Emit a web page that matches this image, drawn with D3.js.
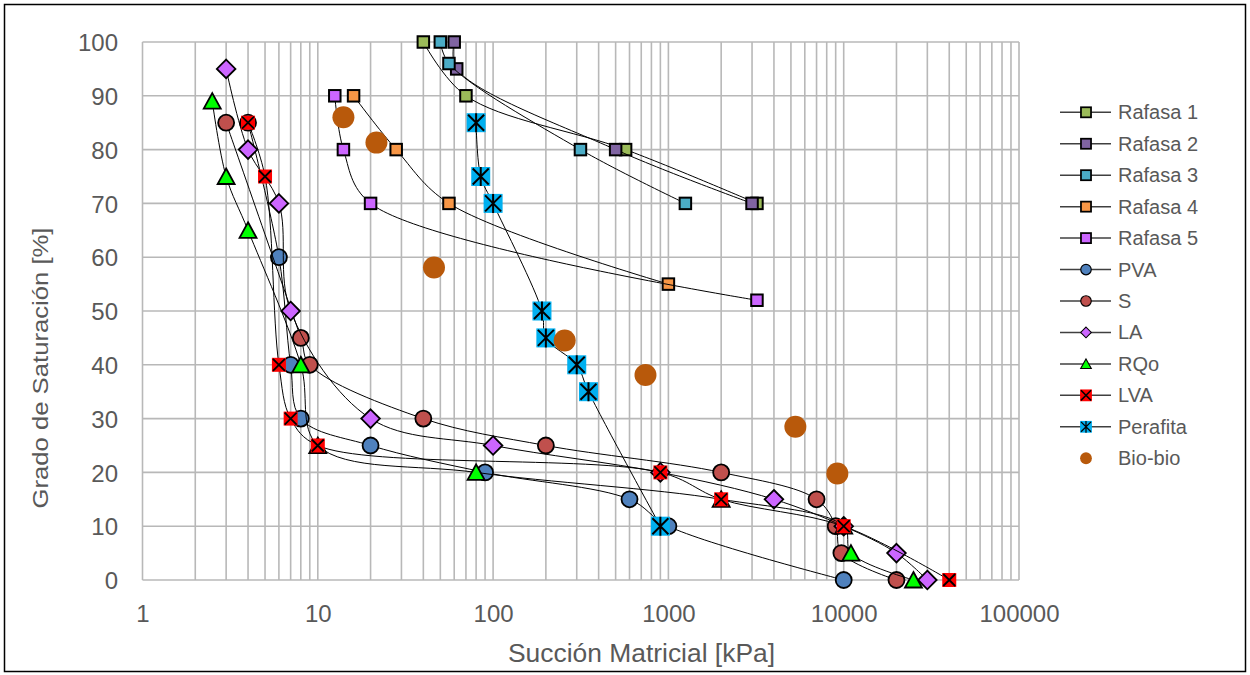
<!DOCTYPE html>
<html>
<head>
<meta charset="utf-8">
<script src="https://cdnjs.cloudflare.com/ajax/libs/d3/7.8.5/d3.min.js"></script>
<style>
body { margin: 0; background: #fff; }
svg text { font-family: "Liberation Sans", Arial, sans-serif; fill: #595959; }
</style>
</head>
<body>
<svg id="chart" width="1250" height="675"></svg>
<script>
// [succion kPa, grado de saturacion %]
var rafasa1 = [[40,100],[70,90],[570,80],[3200,70]];
var rafasa2 = [[60,100],[62,95],[500,80],[3000,70]];
var rafasa3 = [[50,100],[56,96],[315,80],[1250,70]];
var rafasa4 = [[16,90],[28,80],[56,70],[1000,55]];
var rafasa5 = [[12.5,90],[14,80],[20,70],[3200,52]];
var pva = [[4,85],[6,60],[7,40],[8,30],[20,25],[90,20],[600,15],[1000,10],[10000,0]];
var suelo = [[3,85],[8,45],[9,40],[40,30],[200,25],[2000,20],[7000,15],[9000,10],[9700,5],[20000,0]];
var la = [[3,95],[4,80],[6,70],[7,50],[20,30],[100,25],[900,20],[4000,15],[10000,10],[20000,5],[30000,0]];
var rqo = [[2.5,89],[3,75],[4,65],[8,40],[10,25],[80,20],[2000,15],[10000,10],[11000,5],[25000,0]];
var lva = [[4,85],[5,75],[6,40],[7,30],[10,25],[900,20],[2000,15],[10000,10],[40000,0]];
var perafita = [[80,85],[85,75],[100,70],[190,50],[200,45],[300,40],[350,35],[900,10]];
var biobio = [[14,86],[21.6,81.3],[46,58.1],[256,44.5],[740,38.1],[5300,28.5],[9200,19.8]];

var seriesNames = ["Rafasa 1","Rafasa 2","Rafasa 3","Rafasa 4","Rafasa 5","PVA","S","LA","RQo","LVA","Perafita","Bio-bio"];
var seriesData = [rafasa1, rafasa2, rafasa3, rafasa4, rafasa5, pva, suelo, la, rqo, lva, perafita, biobio];
var seriesColors = ["#9bbb59","#8064a2","#4bacc6","#f79646","#cc66ff","#4f81bd","#c0504d","#cc66ff","#00ff00","#ff0000","#00b0f0","#b8590b"];
var seriesShapes = ["square","square","square","square","square","circle","circle","diamond","triangle","xsquare","star","dot"];

var xTicks = [1,10,100,1000,10000,100000];
var yTicks = [0,10,20,30,40,50,60,70,80,90,100];

var svg = d3.select("#chart");

var x = d3.scaleLog()
    .domain([1, 100000])
    .range([142.5, 1019]);

var y = d3.scaleLinear()
    .domain([0, 100])
    .range([580, 42]);

// outer frame
svg.append("rect")
    .attr("x", 4.5).attr("y", 4.5)
    .attr("width", 1241).attr("height", 667)
    .attr("fill", "#fff")
    .attr("stroke", "#000")
    .attr("stroke-width", 1.5);

// gridlines, minor ones on the log axis too
var grid = svg.append("g").attr("class", "grid");

grid.selectAll(".vgrid")
    .data(x.ticks())
    .enter()
    .append("line")
    .attr("x1", function(d) { return x(d); })
    .attr("x2", function(d) { return x(d); })
    .attr("y1", y(0))
    .attr("y2", y(100))
    .attr("stroke", "#b8b8b8")
    .attr("stroke-width", 1.6);

grid.selectAll(".hgrid")
    .data(yTicks)
    .enter()
    .append("line")
    .attr("x1", x(1))
    .attr("x2", x(100000))
    .attr("y1", function(d) { return y(d); })
    .attr("y2", function(d) { return y(d); })
    .attr("stroke", "#b8b8b8")
    .attr("stroke-width", 1.6);

// axes (labels only)
var xAxis = svg.append("g")
    .attr("transform", "translate(0," + y(0) + ")")
    .call(d3.axisBottom(x).tickValues(xTicks).tickSize(0).tickFormat(d3.format("d")));

xAxis.select(".domain").remove();
xAxis.selectAll("text")
    .attr("y", 42)
    .attr("dy", null)
    .style("font-size", "24px");

var yAxis = svg.append("g")
    .attr("transform", "translate(" + x(1) + ",0)")
    .call(d3.axisLeft(y).tickValues(yTicks).tickSize(0));

yAxis.select(".domain").remove();
yAxis.selectAll("text")
    .attr("x", -24.5)
    .attr("dy", "0.36em")
    .style("font-size", "24px");

svg.selectAll(".tick text").attr("fill", "#595959").style("font-family", "'Liberation Sans', Arial, sans-serif");

// titles
svg.append("text")
    .attr("x", 641.5)
    .attr("y", 662)
    .attr("text-anchor", "middle")
    .attr("textLength", 267)
    .attr("lengthAdjust", "spacingAndGlyphs")
    .style("font-size", "26px")
    .text("Succión Matricial [kPa]");

svg.append("text")
    .attr("transform", "translate(47.5,368) rotate(-90)")
    .attr("text-anchor", "middle")
    .attr("textLength", 281)
    .attr("lengthAdjust", "spacingAndGlyphs")
    .style("font-size", "22px")
    .text("Grado de Saturación [%]");

// marker outer sizes, used to shrink the legend symbols
var outerSize = { square: 13.5, circle: 18, diamond: 20.5, triangle: 19, xsquare: 14, star: 19, dot: 22 };

function drawMarker(g, shape, color) {
    if (shape === "square") {
        g.append("rect")
            .attr("x", -5.75).attr("y", -5.75)
            .attr("width", 11.5).attr("height", 11.5)
            .attr("fill", color).attr("stroke", "#000").attr("stroke-width", 2);
    }
    else if (shape === "circle") {
        g.append("circle")
            .attr("r", 8)
            .attr("fill", color).attr("stroke", "#000").attr("stroke-width", 1.8);
    }
    else if (shape === "diamond") {
        g.append("path")
            .attr("d", "M0,-9.3L9.3,0L0,9.3L-9.3,0Z")
            .attr("fill", color).attr("stroke", "#000").attr("stroke-width", 1.8);
    }
    else if (shape === "triangle") {
        g.append("path")
            .attr("d", "M0,-8L8.5,7.5L-8.5,7.5Z")
            .attr("fill", color).attr("stroke", "#000").attr("stroke-width", 1.8)
            .attr("stroke-linejoin", "miter");
    }
    else if (shape === "xsquare") {
        g.append("rect")
            .attr("x", -7).attr("y", -7)
            .attr("width", 14).attr("height", 14)
            .attr("fill", color);
        g.append("path")
            .attr("d", "M-6,-6L6,6M6,-6L-6,6")
            .attr("stroke", "#000").attr("stroke-width", 1.8);
    }
    else if (shape === "star") {
        g.append("rect")
            .attr("x", -9.5).attr("y", -9.5)
            .attr("width", 19).attr("height", 19)
            .attr("fill", color);
        g.append("path")
            .attr("d", "M-8,-8L8,8M8,-8L-8,8M0,-9.5L0,9.5")
            .attr("stroke", "#000").attr("stroke-width", 2);
    }
    else if (shape === "dot") {
        g.append("circle")
            .attr("r", 11)
            .attr("fill", color);
    }
}

// smoothed lines like the spreadsheet ones, without loops at sharp turns
var line = d3.line()
    .x(function(d) { return x(d[0]); })
    .y(function(d) { return y(d[1]); })
    .curve(d3.curveCatmullRom.alpha(0.5));

// series: line then markers, later series on top
seriesData.forEach(function(data, i) {
    var g = svg.append("g").attr("class", "series");

    if (seriesShapes[i] !== "dot") {
        g.append("path")
            .datum(data)
            .attr("d", line)
            .attr("fill", "none")
            .attr("stroke", "#000")
            .attr("stroke-width", 1);
    }

    g.selectAll(".marker")
        .data(data)
        .enter()
        .append("g")
        .attr("class", "marker")
        .attr("transform", function(d) { return "translate(" + x(d[0]) + "," + y(d[1]) + ")"; })
        .each(function() { drawMarker(d3.select(this), seriesShapes[i], seriesColors[i]); });
});

// legend
var legend = svg.append("g").attr("class", "legend");

seriesNames.forEach(function(name, i) {
    var ry = 112.3 + i * 31.45;
    var row = legend.append("g");

    if (seriesShapes[i] !== "dot") {
        row.append("line")
            .attr("x1", 1060).attr("x2", 1111)
            .attr("y1", ry).attr("y2", ry)
            .attr("stroke", "#404040")
            .attr("stroke-width", 1.5);
    }

    var k = 11.8 / outerSize[seriesShapes[i]];
    var m = row.append("g")
        .attr("transform", "translate(1086," + ry + ") scale(" + k + ")");
    drawMarker(m, seriesShapes[i], seriesColors[i]);

    row.append("text")
        .attr("x", 1118)
        .attr("y", ry + 7)
        .style("font-size", "20px")
        .text(name);
});
</script>
</body>
</html>
